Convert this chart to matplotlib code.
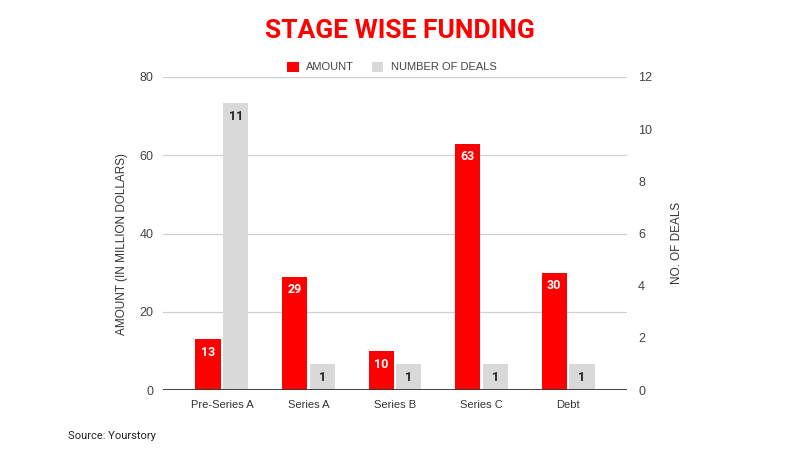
import matplotlib
matplotlib.use("Agg")
import matplotlib.pyplot as plt
from matplotlib.patches import Patch
import numpy as np

categories = ["Pre-Series A", "Series A", "Series B", "Series C", "Debt"]
amount = [13, 29, 10, 63, 30]
deals = [11, 1, 1, 1, 1]
left_ticks = [0, 20, 40, 60, 80]
right_ticks = [0, 2, 4, 6, 8, 10, 12]

RED = "#ff0000"
GRAY = "#d9d9d9"
TXT = "#444444"

plt.rcParams['font.family'] = ['Liberation Sans', 'DejaVu Sans']

fig = plt.figure(figsize=(8, 4.5), dpi=100)
ax = fig.add_axes([0.20375, 0.1333, 0.58, 0.6956])
ax2 = ax.twinx()

x = np.arange(len(categories))
w = 0.29
off = 0.16

ax.set_ylim(0, 80)
ax2.set_ylim(0, 12)
ax.set_xlim(-0.68, len(categories) - 1 + 0.68)

ax.set_yticks(left_ticks)
ax2.set_yticks(right_ticks)
ax.grid(axis='y', color='#d0d0d0', lw=0.9)
ax.set_axisbelow(True)

rb = ax.bar(x - off, amount, w, color=RED, zorder=2)
gb = ax2.bar(x + off, deals, w, color=GRAY, zorder=2)
ax2.axhline(0, color='#333333', lw=1.3, zorder=3)

for b, v in zip(rb, amount):
    ax.annotate(str(v), (b.get_x() + b.get_width() / 2, v), xytext=(0, -9.5),
                textcoords='offset points', ha='center', va='center',
                color='white', fontsize=9, fontweight='bold', family=['Roboto', 'DejaVu Sans'])
for b, v in zip(gb, deals):
    ax2.annotate(str(v), (b.get_x() + b.get_width() / 2, v), xytext=(0, -9.5),
                 textcoords='offset points', ha='center', va='center',
                 color='#222222', fontsize=9, fontweight='bold', family=['Roboto', 'DejaVu Sans'])

for a in (ax, ax2):
    for s in a.spines.values():
        s.set_visible(False)
    a.tick_params(length=0, colors=TXT, labelsize=9)

ax.tick_params(axis='y', pad=7)
ax2.tick_params(axis='y', pad=8)
ax.set_xticks(x)
ax.set_xticklabels(categories, color='#333333', fontsize=8)
ax.tick_params(axis='x', pad=7)

ax.set_ylabel("AMOUNT (IN MILLION DOLLARS)", color='#333333', fontsize=8.5)
ax2.set_ylabel("NO. OF DEALS", color='#333333', fontsize=8.5)
ax.yaxis.set_label_coords(-0.075, 0.466)
ax2.yaxis.set_label_coords(1.095, 0.47)

fig.text(0.5, 1 - 31 / 450, "STAGE WISE FUNDING", ha='center', va='center',
         color=RED, fontsize=19, fontweight='bold',
         family=['Roboto', 'DejaVu Sans'])

handles = [Patch(facecolor=RED), Patch(facecolor=GRAY)]
fig.legend(handles, ["AMOUNT", "NUMBER OF DEALS"], loc='center',
           bbox_to_anchor=(0.49, 1 - 67 / 450), ncol=2, frameon=False,
           fontsize=8, labelcolor=TXT, handlelength=1.0, handleheight=1.0,
           handletextpad=0.7, columnspacing=1.6)

fig.text(68 / 800, 1 - 436 / 450, "Source: Yourstory", ha='left', va='center',
         color='#222222', fontsize=8, family=['Roboto', 'DejaVu Sans'])

fig.savefig("out.png", dpi=100)
